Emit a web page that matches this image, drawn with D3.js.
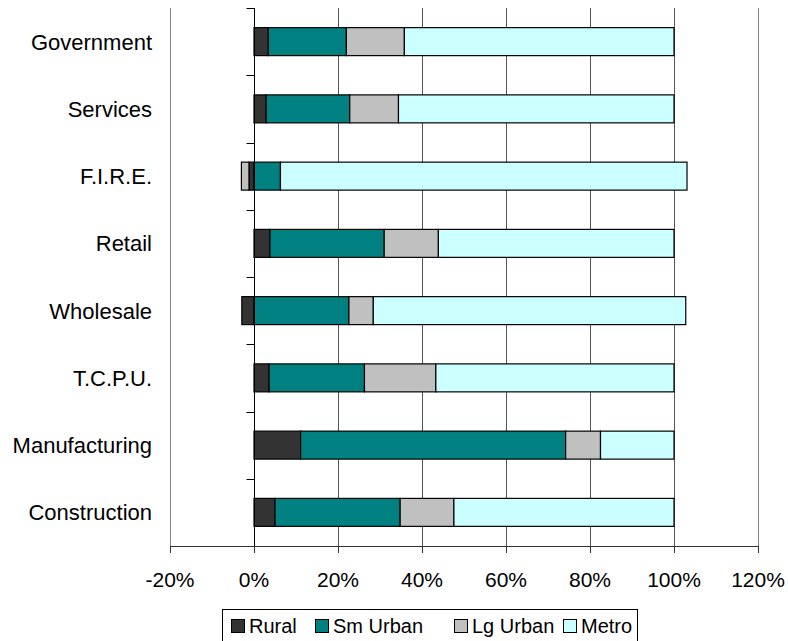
<!DOCTYPE html>
<html><head><meta charset="utf-8">
<script src="https://cdn.jsdelivr.net/npm/d3@7/dist/d3.min.js"></script>
<style>body{margin:0;background:#fff}svg{display:block;font-family:"Liberation Sans",Arial,sans-serif}</style>
</head><body><svg id="c" width="788" height="641"></svg>
<script>
const categories = ["Government","Services","F.I.R.E.","Retail","Wholesale","T.C.P.U.","Manufacturing","Construction"];
const rural   = [3.4, 2.9, -1.2, 3.8, -2.9, 3.6, 11.1, 5.0];
const smUrban = [18.6, 19.9, 6.3, 27.2, 22.6, 22.7, 63.1, 29.8];
const lgUrban = [13.8, 11.6, -1.8, 12.9, 5.8, 17.0, 8.3, 12.8];
const metro   = [64.2, 65.6, 96.8, 56.1, 74.4, 56.7, 17.5, 52.4];
const seriesNames = ["Rural","Sm Urban","Lg Urban","Metro"];
const seriesColors = ["#333333","#008080","#C0C0C0","#CCFFFF"];
const xTicks = [-20,0,20,40,60,80,100,120];

const rows = categories.map((c,i)=>({cat:c,"Rural":rural[i],"Sm Urban":smUrban[i],"Lg Urban":lgUrban[i],"Metro":metro[i]}));
const svg = d3.select("#c");
const L=170, R=758, T=8, B=546;
const x = d3.scaleLinear().domain([-20,120]).range([L,R]);
const y = d3.scaleBand().domain(categories).range([T,B]).paddingInner(0.584).paddingOuter(0.292);
const step = y.step();

// gridlines
svg.append("g").selectAll("line").data(xTicks).join("line")
  .attr("x1",d=>Math.round(x(d))+0.5).attr("x2",d=>Math.round(x(d))+0.5)
  .attr("y1",T).attr("y2",B).attr("stroke",d=>d===-20||d===120?"#808080":"#555").attr("stroke-width",1);

// bars
const stack = d3.stack().keys(seriesNames).offset(d3.stackOffsetDiverging);
const layers = stack(rows);
svg.append("g").selectAll("g").data(layers).join("g")
  .attr("fill",(d,i)=>seriesColors[i])
  .selectAll("rect").data(d=>d).join("rect")
  .attr("x",d=>x(Math.min(d[0],d[1])))
  .attr("width",d=>Math.abs(x(d[1])-x(d[0])))
  .attr("y",d=>y(d.data.cat))
  .attr("height",y.bandwidth())
  .attr("stroke","#000").attr("stroke-width",1.2);

// y axis at 0
const x0 = Math.round(x(0))+0.5;
svg.append("line").attr("x1",x0).attr("x2",x0).attr("y1",T).attr("y2",B).attr("stroke","#000");
svg.append("g").selectAll("line").data(d3.range(categories.length+1)).join("line")
  .attr("x1",x0-8).attr("x2",x0).attr("y1",i=>Math.round(T+i*step)+0.5).attr("y2",i=>Math.round(T+i*step)+0.5)
  .attr("stroke","#000");
svg.append("g").selectAll("text").data(categories).join("text")
  .attr("x",152).attr("y",d=>y(d)+y.bandwidth()/2+8)
  .attr("text-anchor","end").attr("font-size",22).attr("fill","#000").text(d=>d);

// x axis
svg.append("line").attr("x1",L).attr("x2",R+1).attr("y1",B+0.5).attr("y2",B+0.5).attr("stroke","#333");
svg.append("g").selectAll("line").data(xTicks).join("line")
  .attr("x1",d=>Math.round(x(d))+0.5).attr("x2",d=>Math.round(x(d))+0.5)
  .attr("y1",B).attr("y2",B+7).attr("stroke","#333");
svg.append("g").selectAll("text").data(xTicks).join("text")
  .attr("x",d=>x(d)).attr("y",587).attr("text-anchor","middle").attr("font-size",21).attr("fill","#000")
  .text(d=>d+"%");

// legend
const lg = svg.append("g");
lg.append("rect").attr("x",222.5).attr("y",609.5).attr("width",415).attr("height",33).attr("fill","#fff").attr("stroke","#000");
const legX = [231,315,454,563];
seriesNames.forEach((n,i)=>{
  lg.append("rect").attr("x",legX[i]+0.5).attr("y",619.5).attr("width",13).attr("height",13)
    .attr("fill",seriesColors[i]).attr("stroke","#000");
  lg.append("text").attr("x",legX[i]+18).attr("y",633).attr("font-size",20).attr("fill","#000").text(n);
});
</script></body></html>
